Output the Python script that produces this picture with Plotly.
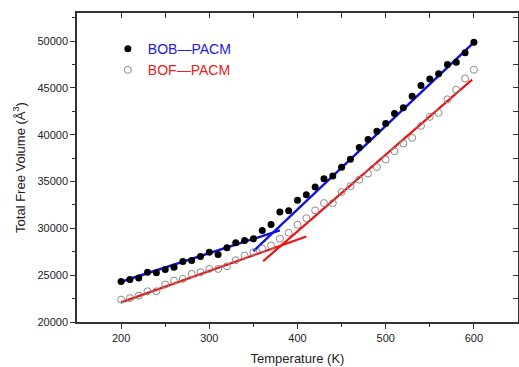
import plotly.graph_objects as go

temps = list(range(200, 601, 10))
bob_pacm = [24320, 24530, 24710, 25310, 25250, 25600, 25850, 26460, 26560, 26990,
            27450, 27200, 27920, 28460, 28700, 28890, 29780, 30420, 31740, 31880,
            33000, 33600, 34410, 35310, 35590, 36520, 37380, 38630, 39490, 40370,
            41200, 42270, 42870, 44100, 45250, 45940, 46500, 47490, 47730, 48760,
            49870]
bof_pacm = [22390, 22550, 22820, 23280, 23280, 24000, 24420, 24600, 25140, 25310,
            25670, 25670, 25950, 26600, 27100, 27450, 27820, 28170, 28890, 29530,
            30390, 31090, 31920, 32700, 32700, 33880, 34500, 35200, 35850, 36550,
            37350, 38230, 39060, 39660, 40940, 41910, 42330, 43780, 44800, 46010,
            46940]

# fitted lines (end points)
bob_fit_low_t = [200, 380]
bob_fit_low_v = [24300, 29790]
bob_fit_high_t = [350, 600]
bob_fit_high_v = [27560, 49870]
bof_fit_low_t = [200, 410]
bof_fit_low_v = [22100, 29130]
bof_fit_high_t = [361, 598]
bof_fit_high_v = [26490, 45880]

x_ticks = [200, 300, 400, 500, 600]
y_ticks = [20000, 25000, 30000, 35000, 40000, 45000, 50000]

FONT = "Arial, Liberation Sans, sans-serif"

fig = go.Figure()

for t, v in [(bob_fit_low_t, bob_fit_low_v), (bob_fit_high_t, bob_fit_high_v)]:
    fig.add_trace(go.Scatter(x=t, y=v, mode="lines", line=dict(color="#1010e0", width=2.5),
                             showlegend=False, hoverinfo="skip"))
for t, v in [(bof_fit_low_t, bof_fit_low_v), (bof_fit_high_t, bof_fit_high_v)]:
    fig.add_trace(go.Scatter(x=t, y=v, mode="lines", line=dict(color="#ee1111", width=2.2),
                             showlegend=False, hoverinfo="skip"))

fig.add_trace(go.Scatter(x=temps, y=bob_pacm, mode="markers",
                         name='<span style="color:#2020e0">BOB\u2014PACM</span>',
                         legendgroup="a",
                         marker=dict(symbol="circle", size=7, color="black")))
fig.add_trace(go.Scatter(x=temps, y=bof_pacm, mode="markers",
                         name='<span style="color:#e82020">BOF\u2014PACM</span>',
                         legendgroup="b",
                         marker=dict(symbol="circle-open", size=7, color="#8a8a8a",
                                     line=dict(width=1))))

# invisible trace for mirror axes
fig.add_trace(go.Scatter(x=[None], y=[None], xaxis="x2", yaxis="y2", showlegend=False,
                         hoverinfo="skip"))

xr = [150, 650]
yr = [20000, 53000]

fig.update_layout(
    width=519, height=367,
    margin=dict(l=77, r=1, t=13, b=45),
    plot_bgcolor="white", paper_bgcolor="white",
    font=dict(family=FONT, color="#222222", size=11),
    xaxis=dict(range=xr, tickvals=x_ticks, ticktext=[str(v) for v in x_ticks],
               ticks="outside", ticklen=5,
               tickwidth=1, tickcolor="#333", showline=True, linecolor="#333", linewidth=1.5,
               showgrid=False, zeroline=False,
               minor=dict(tickvals=[250, 350, 450, 550], ticks="outside", ticklen=3,
                          tickcolor="#333"),
               title=dict(text="Temperature (K)", font=dict(size=13), standoff=11),
               tickfont=dict(size=11)),
    yaxis=dict(range=yr, tickvals=y_ticks, ticktext=[str(v) for v in y_ticks],
               ticks="outside", ticklen=5, tickwidth=1, tickcolor="#333",
               showline=True, linecolor="#333", linewidth=1.5,
               showgrid=False, zeroline=False,
               minor=dict(tickvals=[22500, 27500, 32500, 37500, 42500, 47500, 52500],
                          ticks="outside", ticklen=3, tickcolor="#333"),
               title=dict(text="Total Free Volume (\u00c5<sup>3</sup>)", font=dict(size=13),
                          standoff=9),
               tickfont=dict(size=11)),
    xaxis2=dict(range=xr, overlaying="x", side="top", anchor="y2",
                tickvals=[200, 250, 300, 350, 400, 450, 500, 550, 600],
                ticks="inside", ticklen=5, tickcolor="#333", showticklabels=False,
                showline=True, linecolor="#333", linewidth=1.5, showgrid=False, zeroline=False),
    yaxis2=dict(range=yr, overlaying="y", side="right", anchor="x2",
                tickvals=[20000, 22500, 25000, 27500, 30000, 32500, 35000, 37500, 40000,
                          42500, 45000, 47500, 50000, 52500],
                ticks="inside", ticklen=5, tickcolor="#333", showticklabels=False,
                showline=True, linecolor="#333", linewidth=1.5, showgrid=False, zeroline=False),
    legend=dict(x=0.07, y=0.935, xanchor="left", yanchor="top", bgcolor="rgba(0,0,0,0)",
                font=dict(size=14, family=FONT), traceorder="grouped", tracegroupgap=0,
                itemwidth=30),
    showlegend=True,
)

fig.write_html("out.html")
